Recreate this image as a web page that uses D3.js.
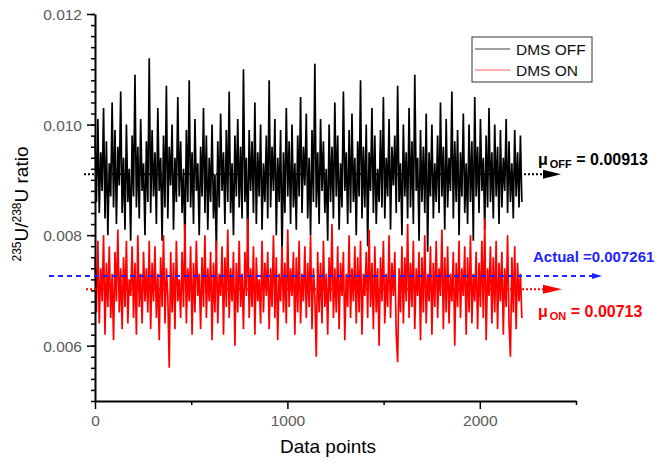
<!DOCTYPE html>
<html>
<head>
<meta charset="utf-8">
<script src="https://cdn.jsdelivr.net/npm/d3@7/dist/d3.min.js"></script>
<style>
  body { margin: 0; background: #fff; }
  svg { font-family: Arial, "Liberation Sans", sans-serif; }
</style>
</head>
<body>
<div id="chart"></div>
<script>
// one sample every ~7.4 data points
var sampleStep = 7.42;

// DMS OFF ratio readings
var offRatio = [
  0.0098,0.0086,0.0101,0.0084,0.0095,0.0088,0.0103,0.0083,0.0097,0.0080,0.0093,0.0087,0.0104,0.0085,0.0099,0.0082,0.0096,0.0089,0.0106,0.0084,
  0.0094,0.0081,0.0100,0.0086,0.0092,0.0079,0.0098,0.0087,0.0109,0.0085,0.0096,0.0083,0.0101,0.0088,0.0093,0.0080,0.0097,0.0086,0.0112,0.0084,
  0.0099,0.0087,0.0095,0.0082,0.0103,0.0088,0.0094,0.0079,0.0098,0.0085,0.0107,0.0083,0.0096,0.0089,0.0100,0.0081,0.0094,0.0086,0.0105,0.0087,
  0.0097,0.0084,0.0092,0.0078,0.0099,0.0086,0.0108,0.0085,0.0095,0.0082,0.0101,0.0088,0.0093,0.0080,0.0096,0.0087,0.0103,0.0084,0.0098,0.0081,
  0.0094,0.0086,0.0100,0.0083,0.0091,0.0077,0.0097,0.0085,0.0102,0.0088,0.0095,0.0082,0.0099,0.0086,0.0106,0.0084,0.0093,0.0080,0.0098,0.0087,
  0.0101,0.0085,0.0096,0.0083,0.0110,0.0086,0.0094,0.0079,0.0099,0.0088,0.0097,0.0084,0.0104,0.0082,0.0095,0.0087,0.0100,0.0081,0.0093,0.0086,
  0.0098,0.0083,0.0108,0.0085,0.0096,0.0088,0.0101,0.0080,0.0094,0.0086,0.0099,0.0076,0.0095,0.0084,0.0103,0.0087,0.0097,0.0082,0.0100,0.0085,
  0.0093,0.0081,0.0098,0.0087,0.0105,0.0084,0.0096,0.0089,0.0102,0.0083,0.0094,0.0080,0.0099,0.0086,0.0111,0.0085,0.0095,0.0082,0.0101,0.0088,
  0.0097,0.0084,0.0092,0.0079,0.0100,0.0086,0.0096,0.0083,0.0104,0.0087,0.0098,0.0081,0.0093,0.0085,0.0106,0.0088,0.0095,0.0082,0.0099,0.0084,
  0.0102,0.0086,0.0094,0.0080,0.0097,0.0087,0.0108,0.0083,0.0096,0.0085,0.0100,0.0078,0.0095,0.0088,0.0103,0.0084,0.0098,0.0082,0.0092,0.0086,
  0.0099,0.0085,0.0105,0.0083,0.0094,0.0087,0.0101,0.0081,0.0096,0.0089,0.0098,0.0084,0.0107,0.0086,0.0093,0.0080,0.0100,0.0087,0.0095,0.0083,
  0.0103,0.0085,0.0097,0.0082,0.0109,0.0088,0.0094,0.0079,0.0099,0.0086,0.0096,0.0084,0.0102,0.0077,0.0095,0.0087,0.0100,0.0083,0.0093,0.0086,
  0.0098,0.0084,0.0104,0.0087,0.0096,0.0081,0.0101,0.0085,0.0094,0.0088,0.0106,0.0083,0.0097,0.0086,0.0099,0.0080,0.0095,0.0087,0.0102,0.0084,
  0.0093,0.0082,0.0100,0.0086,0.0097,0.0079,0.0105,0.0087,0.0096,0.0084,0.0101,0.0088,0.0094,0.0081,0.0098,0.0085,0.0103,0.0086,0.0095,0.0083,
  0.0100,0.0087,0.0096,0.0082,0.0099,0.0085,0.0094,0.0088,0.0101,0.0084,0.0097,0.0086,0.0093,0.0083,0.0099,0.0087,0.0095,0.0085,0.0098,0.0086
];

// DMS ON ratio readings
var onRatio = [
  0.0076,0.0066,0.0079,0.0064,0.0074,0.0068,0.0080,0.0062,0.0075,0.0067,0.0078,0.0065,0.0073,0.0061,0.0077,0.0068,0.0081,0.0066,0.0074,0.0063,
  0.0076,0.0067,0.0079,0.0064,0.0072,0.0069,0.0078,0.0065,0.0075,0.0062,0.0080,0.0067,0.0073,0.0064,0.0077,0.0068,0.0074,0.0066,0.0079,0.0063,
  0.0075,0.0068,0.0078,0.0065,0.0073,0.0061,0.0076,0.0067,0.0080,0.0064,0.0074,0.0069,0.0056,0.0077,0.0066,0.0075,0.0063,0.0079,0.0068,0.0072,
  0.0065,0.0077,0.0067,0.0082,0.0064,0.0074,0.0068,0.0078,0.0062,0.0075,0.0066,0.0079,0.0069,0.0073,0.0063,0.0076,0.0067,0.0080,0.0065,0.0074,
  0.0068,0.0077,0.0061,0.0075,0.0066,0.0079,0.0064,0.0073,0.0069,0.0078,0.0062,0.0076,0.0067,0.0081,0.0065,0.0074,0.0068,0.0077,0.0060,0.0075,
  0.0066,0.0079,0.0067,0.0073,0.0063,0.0077,0.0069,0.0083,0.0065,0.0074,0.0067,0.0078,0.0062,0.0076,0.0068,0.0072,0.0064,0.0079,0.0066,0.0075,
  0.0069,0.0077,0.0063,0.0074,0.0067,0.0080,0.0065,0.0076,0.0061,0.0073,0.0068,0.0078,0.0066,0.0075,0.0064,0.0081,0.0067,0.0074,0.0069,0.0077,
  0.0062,0.0076,0.0066,0.0079,0.0064,0.0073,0.0068,0.0078,0.0065,0.0075,0.0067,0.0080,0.0063,0.0074,0.0069,0.0058,0.0077,0.0066,0.0075,0.0064,
  0.0079,0.0067,0.0073,0.0062,0.0076,0.0068,0.0082,0.0065,0.0074,0.0066,0.0078,0.0063,0.0075,0.0069,0.0077,0.0061,0.0073,0.0067,0.0080,0.0065,
  0.0074,0.0068,0.0078,0.0064,0.0076,0.0066,0.0079,0.0062,0.0073,0.0069,0.0077,0.0065,0.0081,0.0067,0.0075,0.0063,0.0078,0.0066,0.0074,0.0060,
  0.0076,0.0068,0.0079,0.0064,0.0073,0.0067,0.0080,0.0065,0.0075,0.0069,0.0077,0.0062,0.0057,0.0074,0.0066,0.0078,0.0064,0.0076,0.0068,0.0082,
  0.0065,0.0075,0.0067,0.0079,0.0063,0.0074,0.0069,0.0077,0.0061,0.0076,0.0066,0.0080,0.0064,0.0073,0.0068,0.0078,0.0062,0.0075,0.0067,0.0079,
  0.0065,0.0074,0.0069,0.0081,0.0063,0.0076,0.0066,0.0078,0.0064,0.0073,0.0068,0.0077,0.0060,0.0075,0.0067,0.0079,0.0065,0.0074,0.0069,0.0078,
  0.0062,0.0076,0.0066,0.0080,0.0064,0.0073,0.0068,0.0077,0.0063,0.0075,0.0067,0.0079,0.0065,0.0083,0.0061,0.0074,0.0069,0.0078,0.0064,0.0076,
  0.0066,0.0079,0.0063,0.0075,0.0068,0.0077,0.0062,0.0074,0.0067,0.0080,0.0064,0.0058,0.0076,0.0066,0.0078,0.0063,0.0075,0.0068,0.0073,0.0065
];

var xMajorTicks = [0, 1000, 2000];
var xMinorTicks = [500, 1500, 2500];
var yMajorTicks = [0.006, 0.008, 0.010, 0.012];

// reference lines (drawn levels) and their labels
var offMean = 0.0091, offLabel = "0.00913";
var onMean = 0.00702, onLabel = "0.00713";
var actualRatio = 0.007261, actualLabel = "Actual =0.007261";

var width = 663, height = 464;

var x = d3.scaleLinear().domain([0, 2500]).range([95, 576]);
var y = d3.scaleLinear().domain([0.005, 0.012]).range([401, 14]);

var svg = d3.select("#chart").append("svg")
    .attr("width", width)
    .attr("height", height);

var line = d3.line()
    .x(function (d, i) { return x(i * sampleStep); })
    .y(function (d) { return y(d); });

svg.append("path")
    .datum(offRatio)
    .attr("d", line)
    .attr("fill", "none")
    .attr("stroke", "#000")
    .attr("stroke-width", 1.7);

svg.append("path")
    .datum(onRatio)
    .attr("d", line)
    .attr("fill", "none")
    .attr("stroke", "#ff0000")
    .attr("stroke-width", 1.7);

// axes
var yMinor = d3.range(50, 121, 2).map(function (v) { return v / 10000; });
svg.append("g")
    .attr("transform", "translate(95,0)")
    .call(d3.axisLeft(y).tickValues(yMinor).tickSize(4).tickFormat(""))
    .call(function (g) { g.select(".domain").remove(); });
var yAxis = svg.append("g")
    .attr("transform", "translate(95,0)")
    .call(d3.axisLeft(y).tickValues(yMajorTicks).tickSize(8).tickSizeOuter(0).tickPadding(5).tickFormat(d3.format(".3f")));

svg.append("g")
    .attr("transform", "translate(0,401)")
    .call(d3.axisBottom(x).tickValues(xMinorTicks).tickSize(4).tickFormat(""))
    .call(function (g) { g.select(".domain").remove(); });
var xAxis = svg.append("g")
    .attr("transform", "translate(0,401)")
    .call(d3.axisBottom(x).tickValues(xMajorTicks).tickSize(8).tickSizeOuter(0).tickPadding(6).tickFormat(d3.format("d")));

svg.selectAll(".domain").attr("stroke-width", 2);
svg.selectAll(".tick line").attr("stroke-width", 1.5);
svg.selectAll(".tick text")
    .attr("fill", "#5a5a5a")
    .style("font-size", "15.5px")
    .style("font-family", "Arial, 'Liberation Sans', sans-serif");
yAxis.selectAll(".tick text").attr("dy", "0.35em");

// axis titles
svg.append("text")
    .attr("x", 328)
    .attr("y", 453)
    .attr("text-anchor", "middle")
    .style("font-size", "19px")
    .text("Data points");

var yTitle = svg.append("text")
    .attr("transform", "translate(28,204) rotate(-90)")
    .attr("text-anchor", "middle")
    .style("font-size", "19px");
yTitle.append("tspan").attr("baseline-shift", "super").style("font-size", "12px").text("235");
yTitle.append("tspan").text("U/");
yTitle.append("tspan").attr("baseline-shift", "super").style("font-size", "12px").text("238");
yTitle.append("tspan").text("U ratio");

// reference lines
function arrowHead(x0, yy, len, half, color) {
    svg.append("path")
        .attr("d", "M" + x0 + "," + (yy - half) + "L" + (x0 + len) + "," + yy + "L" + x0 + "," + (yy + half) + "Z")
        .attr("fill", color);
}

svg.append("line")
    .attr("x1", 84).attr("x2", 545)
    .attr("y1", y(offMean)).attr("y2", y(offMean))
    .attr("stroke", "#000").attr("stroke-width", 2)
    .attr("stroke-dasharray", "2,2");
arrowHead(543, y(offMean), 18, 4.5, "#000");

svg.append("line")
    .attr("x1", 86).attr("x2", 545)
    .attr("y1", y(onMean)).attr("y2", y(onMean))
    .attr("stroke", "#ff0000").attr("stroke-width", 2)
    .attr("stroke-dasharray", "2,2");
arrowHead(543, y(onMean), 19, 4.5, "#ff0000");

svg.append("line")
    .attr("x1", 49).attr("x2", 594)
    .attr("y1", y(actualRatio)).attr("y2", y(actualRatio))
    .attr("stroke", "#1f24ff").attr("stroke-width", 2)
    .attr("stroke-dasharray", "5,4");
arrowHead(592, y(actualRatio), 10, 3, "#1f24ff");

// annotations
function muLabel(xx, yy, sub, value, color) {
    var t = svg.append("text")
        .attr("x", xx).attr("y", yy)
        .attr("fill", color)
        .style("font-weight", "bold")
        .style("font-size", "16px");
    t.append("tspan").text("\u03bc");
    t.append("tspan").attr("dx", 2).attr("dy", 3).style("font-size", "11px").text(sub);
    t.append("tspan").attr("dy", -3).text(" = " + value);
}
muLabel(538, 165, "OFF", offLabel, "#000");
muLabel(538, 317, "ON", onLabel, "#ff0000");

svg.append("text")
    .attr("x", 533).attr("y", 262)
    .attr("fill", "#1f24ff")
    .style("font-weight", "bold")
    .style("font-size", "15px")
    .text(actualLabel);

// legend
var legend = svg.append("g");
legend.append("rect")
    .attr("x", 472).attr("y", 37)
    .attr("width", 120).attr("height", 45)
    .attr("fill", "#fff")
    .attr("stroke", "#333").attr("stroke-width", 1);
var legendItems = [["DMS OFF", "#444"], ["DMS ON", "#ff6060"]];
legendItems.forEach(function (d, i) {
    legend.append("line")
        .attr("x1", 475).attr("x2", 510)
        .attr("y1", 49 + i * 21).attr("y2", 49 + i * 21)
        .attr("stroke", d[1]).attr("stroke-width", 1);
    legend.append("text")
        .attr("x", 516).attr("y", 55 + i * 21)
        .attr("fill", "#111")
        .style("font-size", "15.5px")
        .text(d[0]);
});
</script>
</body>
</html>
